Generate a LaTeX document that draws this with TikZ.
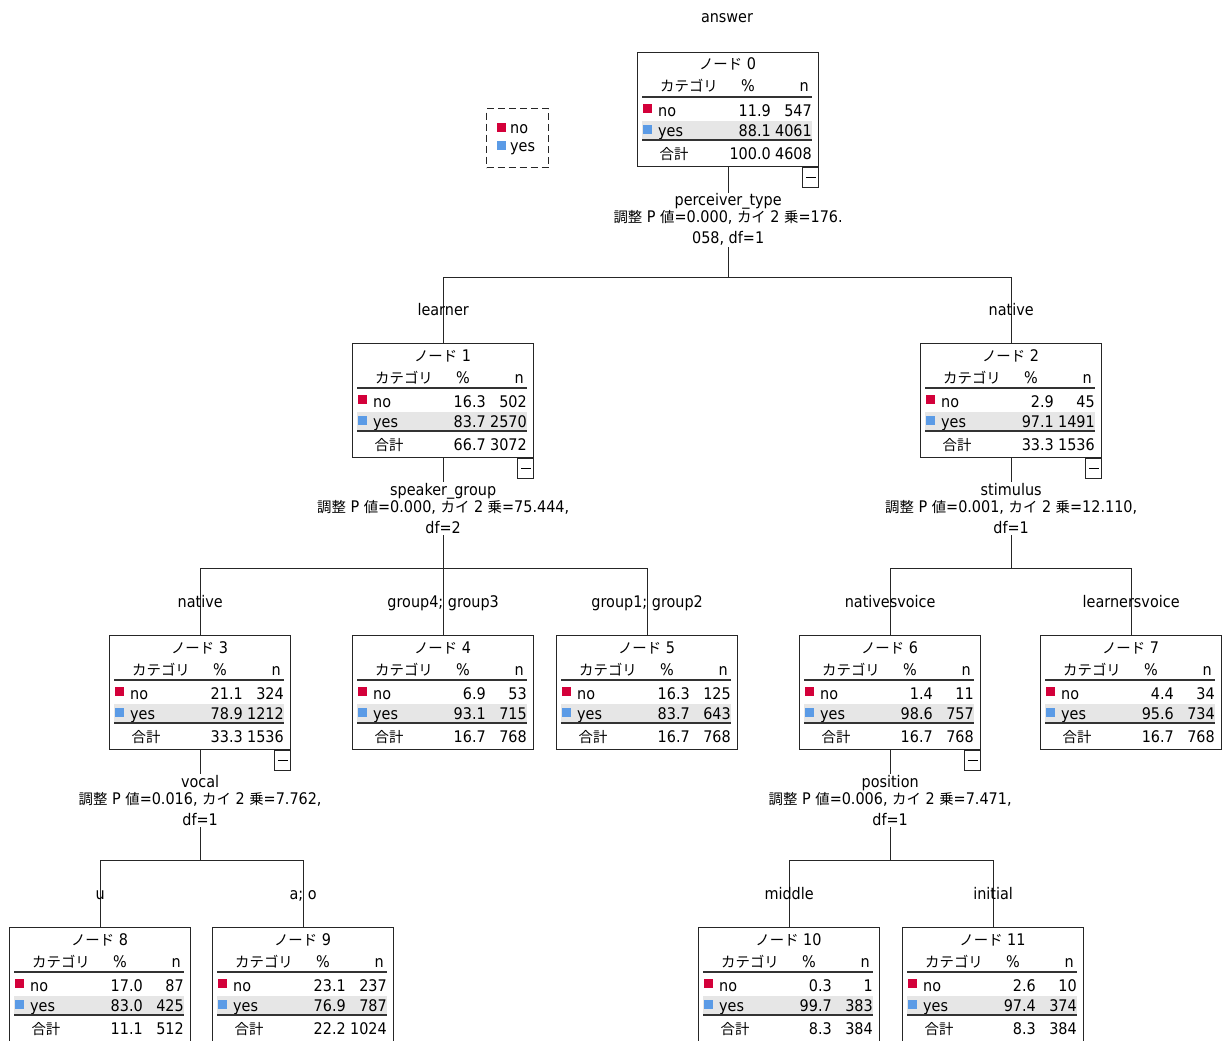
\documentclass[tikz,border=0pt]{standalone}
\usepackage{fontspec}
\setmainfont{DejaVu Sans}[FakeStretch=0.9]
\newfontfamily\jp{Noto Sans CJK JP}[Scale=0.9]
\usetikzlibrary{calc,backgrounds}
\definecolor{nored}{HTML}{D3003A}
\definecolor{yesblue}{HTML}{5B9BE6}
\definecolor{rowgray}{HTML}{E6E6E6}
\tikzset{
 every node/.style={font=\fontsize{16}{18}\selectfont, inner sep=0pt},
 cell/.style={text height=10pt, text depth=3pt},
 box/.style={draw=black!85, line width=1.3pt, minimum width=181pt, minimum height=114pt, anchor=north west, fill=white},
 conn/.style={draw=black!85, line width=1.3pt},
 split/.style={align=center, font=\fontsize{16}{21}\selectfont, fill=white, inner sep=1pt},
 cat/.style={cell},
 rule/.style={line width=1.6pt, black!80},
 swatch/.style={minimum size=9pt, inner sep=0pt},
 collapsebox/.style={draw=black!85, line width=1.1pt, minimum width=16pt, minimum height=20pt, anchor=north east, fill=white},
}
\newcommand{\cartnode}[9]{%
 \node[box] (#1) at (#2) {};
 \begin{scope}[shift={(#1.north west)}]
  \node[cell] (#1t) at (90.5,14.5) {{\jp ノード} #3};
  \node[cell] (#1ha) at (52,36.5) {\jp カテゴリ};
  \node[cell] (#1hb) at (111,36.5) {\%};
  \node[cell,anchor=east] (#1hc) at (172,36.5) {n};
  \draw[rule] (5,45) -- (175,45);
  \fill[rowgray] (5,69) rectangle (175,87);
  \node[swatch, fill=nored] (#1sn) at (10.5,56.5) {};
  \node[cell,anchor=west] (#1ln) at (21,60.5) {no};
  \node[cell,anchor=east] (#1pn) at (134,60.5) {#4};
  \node[cell,anchor=east] (#1cn) at (175,60.5) {#5};
  \node[swatch, fill=yesblue] (#1sy) at (10.5,77.5) {};
  \node[cell,anchor=west] (#1ly) at (21,80.5) {yes};
  \node[cell,anchor=east] (#1py) at (134,80.5) {#6};
  \node[cell,anchor=east] (#1cy) at (175,80.5) {#7};
  \draw[rule] (5,88) -- (175,88);
  \node[cell] (#1lt) at (37,103.5) {\jp 合計};
  \node[cell,anchor=east] (#1pt) at (134,103.5) {#8};
  \node[cell,anchor=east] (#1ct) at (175,103.5) {#9};
 \end{scope}}
\newcommand{\collapsemark}[1]{%
 \node[collapsebox] (#1c) at (#1.south east) {};
 \draw[line width=1.1pt] ($(#1c.center)+(-5,0)$) -- ($(#1c.center)+(5,0)$);}
\newcommand{\stat}[3]{{\jp 調整} P {\jp 値}=#1, {\jp カイ} 2 {\jp 乗}=#2\\#3}
\begin{document}
\begin{tikzpicture}[x=1pt,y=-1pt]
\useasboundingbox (0,0) rectangle (1223,1041);
\clip (0,0) rectangle (1223,1041);
\node (title) at (727,18) {answer};
% legend
\node[draw=black!85, dashed, dash pattern=on 7pt off 4pt, line width=1.2pt, minimum width=62pt, minimum height=59pt, anchor=north west] (legend) at (486,108) {};
\node[swatch, fill=nored] (legno) at (501,127) {};
\node[cell,anchor=west] (legnot) at (510,129.5) {no};
\node[swatch, fill=yesblue] (legyes) at (501,145) {};
\node[cell,anchor=west] (legyest) at (510,147.5) {yes};
% nodes
\cartnode{n0}{637,52}{0}{11.9}{547}{88.1}{4061}{100.0}{4608}
\cartnode{n1}{352,343}{1}{16.3}{502}{83.7}{2570}{66.7}{3072}
\cartnode{n2}{920,343}{2}{2.9}{45}{97.1}{1491}{33.3}{1536}
\cartnode{n3}{109,635}{3}{21.1}{324}{78.9}{1212}{33.3}{1536}
\cartnode{n4}{352,635}{4}{6.9}{53}{93.1}{715}{16.7}{768}
\cartnode{n5}{556,635}{5}{16.3}{125}{83.7}{643}{16.7}{768}
\cartnode{n6}{799,635}{6}{1.4}{11}{98.6}{757}{16.7}{768}
\cartnode{n7}{1040,635}{7}{4.4}{34}{95.6}{734}{16.7}{768}
\cartnode{n8}{9,927}{8}{17.0}{87}{83.0}{425}{11.1}{512}
\cartnode{n9}{212,927}{9}{23.1}{237}{76.9}{787}{22.2}{1024}
\cartnode{n10}{698,927}{10}{0.3}{1}{99.7}{383}{8.3}{384}
\cartnode{n11}{902,927}{11}{2.6}{10}{97.4}{374}{8.3}{384}
\collapsemark{n0}
\collapsemark{n1}
\collapsemark{n2}
\collapsemark{n3}
\collapsemark{n6}
% split labels
\node[split] (s0) at ($(n0.south)+(0,52.5)$) {perceiver\_type\\[-4pt]\stat{0.000}{176.}{058, df=1}};
\node[split] (s1) at ($(n1.south)+(0,50.5)$) {speaker\_group\\[-4pt]\stat{0.000}{75.444,}{df=2}};
\node[split] (s2) at ($(n2.south)+(0,50.5)$) {stimulus\\[-4pt]\stat{0.001}{12.110,}{df=1}};
\node[split] (s3) at ($(n3.south)+(0,50.5)$) {vocal\\[-4pt]\stat{0.016}{7.762,}{df=1}};
\node[split] (s6) at ($(n6.south)+(0,50.5)$) {position\\[-4pt]\stat{0.006}{7.471,}{df=1}};
% category labels
\node[cat] (c1) at ($(n1.north)+(0,-31)$) {learner};
\node[cat] (c2) at ($(n2.north)+(0,-31)$) {native};
\node[cat] (c3) at ($(n3.north)+(0,-31)$) {native};
\node[cat] (c4) at ($(n4.north)+(0,-31)$) {group4; group3};
\node[cat] (c5) at ($(n5.north)+(0,-31)$) {group1; group2};
\node[cat] (c6) at ($(n6.north)+(0,-31)$) {nativesvoice};
\node[cat] (c7) at ($(n7.north)+(0,-31)$) {learnersvoice};
\node[cat] (c8) at ($(n8.north)+(0,-31)$) {u};
\node[cat] (c9) at ($(n9.north)+(0,-31)$) {a; o};
\node[cat] (c10) at ($(n10.north)+(0,-31)$) {middle};
\node[cat] (c11) at ($(n11.north)+(0,-31)$) {initial};
\coordinate (h0) at ($(n0.south)+(0,110)$);
\coordinate (h1) at ($(n1.south)+(0,110)$);
\coordinate (h2) at ($(n2.south)+(0,110)$);
\coordinate (h3) at ($(n3.south)+(0,110)$);
\coordinate (h6) at ($(n6.south)+(0,110)$);
\begin{pgfonlayer}{background}
\fill[white] (0,0) rectangle (1223,1041);
% root
\draw[conn] (n0.south) -- (n0.south |- s0.north);
\draw[conn] (s0.south) -- (h0);
\draw[conn] (n1.north |- h0) -- (n2.north |- h0);
\draw[conn] (n1.north |- h0) -- (n1.north);
\draw[conn] (n2.north |- h0) -- (n2.north);
% node 1
\draw[conn] (n1.south) -- (n1.south |- s1.north);
\draw[conn] (s1.south) -- (h1);
\draw[conn] (n3.north |- h1) -- (n5.north |- h1);
\draw[conn] (n3.north |- h1) -- (n3.north);
\draw[conn] (n4.north |- h1) -- (n4.north);
\draw[conn] (n5.north |- h1) -- (n5.north);
% node 2
\draw[conn] (n2.south) -- (n2.south |- s2.north);
\draw[conn] (s2.south) -- (h2);
\draw[conn] (n6.north |- h2) -- (n7.north |- h2);
\draw[conn] (n6.north |- h2) -- (n6.north);
\draw[conn] (n7.north |- h2) -- (n7.north);
% node 3
\draw[conn] (n3.south) -- (n3.south |- s3.north);
\draw[conn] (s3.south) -- (h3);
\draw[conn] (n8.north |- h3) -- (n9.north |- h3);
\draw[conn] (n8.north |- h3) -- (n8.north);
\draw[conn] (n9.north |- h3) -- (n9.north);
% node 6
\draw[conn] (n6.south) -- (n6.south |- s6.north);
\draw[conn] (s6.south) -- (h6);
\draw[conn] (n10.north |- h6) -- (n11.north |- h6);
\draw[conn] (n10.north |- h6) -- (n10.north);
\draw[conn] (n11.north |- h6) -- (n11.north);
\end{pgfonlayer}
\end{tikzpicture}
\end{document}
